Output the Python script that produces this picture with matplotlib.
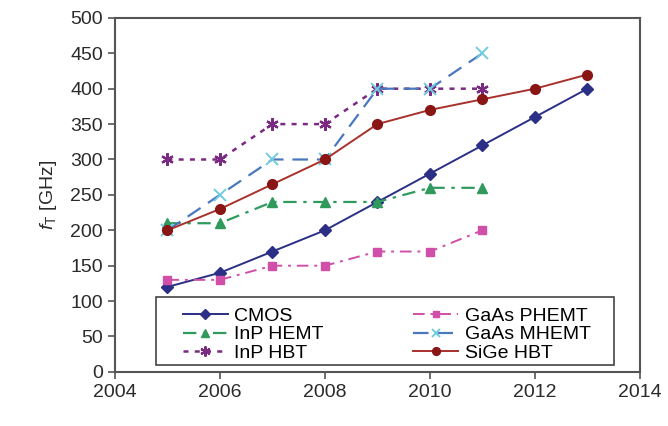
import matplotlib
matplotlib.use("Agg")
import matplotlib.pyplot as plt
from matplotlib.patches import Rectangle

plt.rcParams['font.family'] = ['Liberation Sans', 'DejaVu Sans']
plt.rcParams['mathtext.fontset'] = 'custom'
plt.rcParams['mathtext.it'] = 'Liberation Sans:italic'
plt.rcParams['mathtext.rm'] = 'Liberation Sans'

years_long = [2005, 2006, 2007, 2008, 2009, 2010, 2011, 2012, 2013]
years_short = [2005, 2006, 2007, 2008, 2009, 2010, 2011]

cmos = [120, 140, 170, 200, 240, 280, 320, 360, 400]
inp_hemt = [210, 210, 240, 240, 240, 260, 260]
inp_hbt = [300, 300, 350, 350, 400, 400, 400]
gaas_phemt = [130, 130, 150, 150, 170, 170, 200]
gaas_mhemt = [200, 250, 300, 300, 400, 400, 450]
sige_hbt = [200, 230, 265, 300, 350, 370, 385, 400, 420]

fig = plt.figure(figsize=(6.68, 4.26), dpi=100)
ax = fig.add_axes([0.172, 0.127, 0.786, 0.831])

ax.plot(years_long, cmos, color='#2b2f86', marker='D', markersize=6,
        lw=1.4, ls='-', label='CMOS')
ax.plot(years_short, inp_hemt, color='#2f9a5c', marker='^', markersize=7,
        lw=1.6, ls=(0, (6, 3, 1.5, 3)), label='InP HEMT')
ax.plot(years_short, inp_hbt, color='#7a2a80', marker=(6, 2, 0), markersize=9,
        mew=1.6, lw=1.8, ls=(0, (2, 2.5)), label='InP HBT')
ax.plot(years_short, gaas_phemt, color='#d04fa8', marker='s', markersize=6,
        lw=1.4, ls=(0, (6, 3, 1.5, 3)), label='GaAs PHEMT')
ax.plot(years_short, gaas_mhemt, color='#4a78bf', marker='x', markersize=8,
        mec='#72cde0', mew=1.4, lw=1.6, ls=(0, (7, 4)), label='GaAs MHEMT')
ax.plot(years_long, sige_hbt, color='#a8312c', marker='o', markersize=7,
        mfc='#8a1515', mec='#8a1515', lw=1.4, ls='-', label='SiGe HBT')

ax.set_xlim(2004, 2014)
ax.set_ylim(0, 500)
ax.set_xticks(range(2004, 2015, 2))
ax.set_yticks(range(0, 501, 50))
ax.tick_params(labelsize=14, color='#555555', length=5, width=1.2, labelcolor='#2a2a2a')
for s in ax.spines.values():
    s.set_color('#555555')
    s.set_linewidth(1.5)

ax.set_ylabel(r'$f_{\mathrm{T}}$ [GHz]', fontsize=14, color='#2a2a2a', labelpad=8)

# legend frame drawn separately so the side padding can be wider than the top/bottom
ax.add_patch(Rectangle((0.078, 0.020), 0.872, 0.192, transform=ax.transAxes,
                       facecolor='white', edgecolor='#444444', lw=1.2, zorder=4))
leg = ax.legend(ncol=2, loc='lower left', bbox_to_anchor=(0.1295, 0.028),
                fontsize=14, frameon=False, borderpad=0, labelspacing=0.05,
                handlelength=2.3, handletextpad=0.35, columnspacing=4.6,
                borderaxespad=0, markerscale=0.8)
leg.set_zorder(5)

fig.savefig('out.png', dpi=100)
